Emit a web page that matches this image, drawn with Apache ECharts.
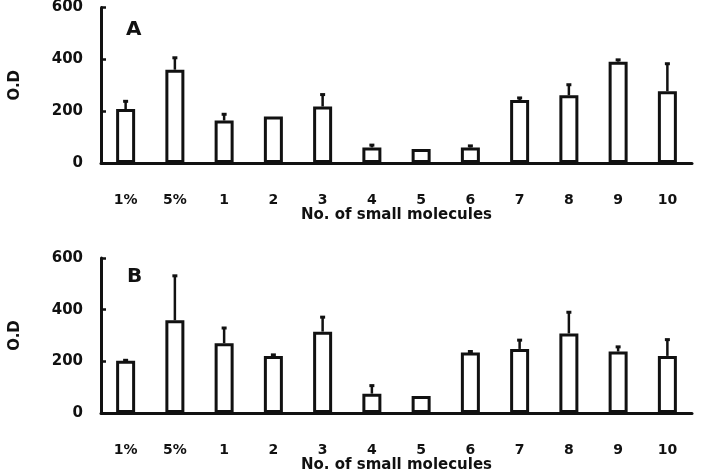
<!DOCTYPE html>
<html>
<head>
<meta charset="utf-8">
<script src="https://cdn.jsdelivr.net/npm/echarts@6/dist/echarts.min.js"></script>
<style>
  html, body { margin: 0; padding: 0; background: #fff; }
  #chart { width: 701px; height: 474px; }
</style>
</head>
<body>
<div id="chart"></div>
<script>
// categories (x axis)
const categories = ['1%', '5%', '1', '2', '3', '4', '5', '6', '7', '8', '9', '10'];
const yTicks = [0, 200, 400, 600];

// panel A: mean O.D and error (SD)
const meanA = [208, 360, 164, 179, 218, 60, 54, 60, 243, 261, 391, 277];
const errA = [30, 46, 24, 0, 46, 9, 0, 6, 8, 41, 7, 106];

// panel B
const meanB = [202, 359, 270, 221, 315, 75, 66, 234, 248, 308, 238, 221];
const errB = [2, 172, 59, 4, 56, 31, 0, 4, 34, 82, 18, 63];

const fontFamily = 'DejaVu Sans';
const black = '#111';

const errorItem = (params, api) => {
    const x = api.value(0);
    const lo = api.coord([x, api.value(1)]);
    const hi = api.coord([x, api.value(2)]);
    if (api.value(2) <= api.value(1)) return null;
    return {
        type: 'group',
        children: [{
            type: 'line',
            shape: { x1: lo[0], y1: lo[1], x2: hi[0], y2: hi[1] },
            style: { stroke: black, lineWidth: 2.5 }
        }, {
            type: 'line',
            shape: { x1: hi[0] - 2.5, y1: hi[1], x2: hi[0] + 2.5, y2: hi[1] },
            style: { stroke: black, lineWidth: 3 }
        }]
    };
};

const buildX = (gridIndex) => ({
    type: 'category',
    gridIndex: gridIndex,
    data: categories,
    name: 'No. of small molecules',
    nameLocation: 'middle',
    nameGap: gridIndex === 0 ? 41 : 45,
    nameTextStyle: { color: black, fontFamily: fontFamily, fontWeight: 'bold', fontSize: 15 },
    axisLine: { lineStyle: { color: black, width: 3 } },
    axisTick: { show: false },
    axisLabel: { color: black, fontFamily: fontFamily, fontWeight: 'bold', fontSize: 14, margin: 30 }
});

const buildY = (gridIndex) => ({
    type: 'value',
    gridIndex: gridIndex,
    min: 0,
    max: 600,
    interval: 200,
    name: 'O.D',
    nameLocation: 'middle',
    nameGap: 78,
    nameRotate: 90,
    nameTextStyle: { color: black, fontFamily: fontFamily, fontWeight: 'bold', fontSize: 15 },
    axisLine: { show: true, lineStyle: { color: black, width: 3 } },
    axisTick: { show: true, inside: true, length: 5, lineStyle: { color: black, width: 2.5 } },
    axisLabel: {
        color: black, fontFamily: fontFamily, fontWeight: 'bold', fontSize: 15, margin: 18,
        formatter: (v) => yTicks.includes(v) ? String(v) : ''
    },
    splitLine: { show: false }
});

const buildBars = (idx, mean) => ({
    type: 'bar',
    xAxisIndex: idx,
    yAxisIndex: idx,
    data: mean,
    barWidth: 19,
    itemStyle: { color: '#fff', borderColor: black, borderWidth: 3 },
    silent: true,
    z: 2
});

const buildErr = (idx, mean, err) => ({
    type: 'custom',
    xAxisIndex: idx,
    yAxisIndex: idx,
    data: mean.map((m, i) => [i, m, m + err[i]]),
    renderItem: errorItem,
    silent: true,
    z: 3
});

const chart = echarts.init(document.getElementById('chart'));
chart.setOption({
    animation: false,
    backgroundColor: '#fff',
    title: [{
        text: 'A', left: 121, top: 15,
        textStyle: { fontFamily: fontFamily, fontWeight: 'bold', fontSize: 20, color: black }
    }, {
        text: 'B', left: 122, top: 262,
        textStyle: { fontFamily: fontFamily, fontWeight: 'bold', fontSize: 20, color: black }
    }],
    grid: [
        { left: 98, right: 9, top: 4, bottom: 311 },
        { left: 98, right: 9, top: 258, bottom: 59 }
    ],
    xAxis: [buildX(0), buildX(1)],
    yAxis: [buildY(0), buildY(1)],
    series: [
        buildBars(0, meanA), buildErr(0, meanA, errA),
        buildBars(1, meanB), buildErr(1, meanB, errB)
    ]
});
</script>
</body>
</html>
